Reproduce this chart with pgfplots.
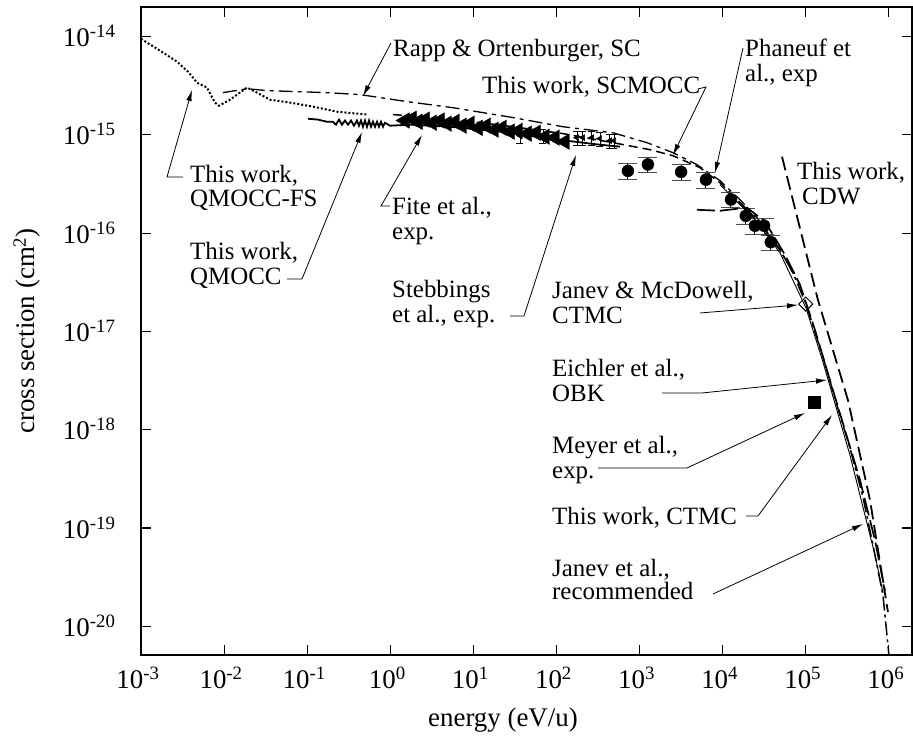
\documentclass[border=0pt]{standalone}
\usepackage{pgfplots}
\pgfplotsset{compat=1.18}
\usepackage{fontspec}
\setmainfont{Liberation Serif}
\usetikzlibrary{arrows.meta}
\newcommand\ann{\fontsize{25}{26}\selectfont}
\newcommand\lab{\fontsize{27}{30}\selectfont}
\begin{document}
\begin{tikzpicture}
\path[use as bounding box] (0,0) rectangle (913bp,738bp);
\begin{axis}[
 at={(141bp,83bp)}, anchor=south west, width=771bp, height=648bp, scale only axis,
 xmode=log, ymode=log, log basis x=10, log basis y=10,
 xmin=1e-3, xmax=1.9e6, ymin=5.1e-21, ymax=2.0e-14,
 axis line style={line width=1.6bp},
 every tick/.style={black, line width=1.1bp},
 major tick length=10bp, minor tick length=5.5bp,
 xtick={1e-3,1e-2,1e-1,1,10,100,1000,1e4,1e5,1e6},
 ytick={1e-20,1e-19,1e-18,1e-17,1e-16,1e-15,1e-14},
 xticklabel={\pgfmathtruncatemacro\ex{round(\tick)}10\textsuperscript{\ex}},
 yticklabel={\pgfmathtruncatemacro\ex{round(\tick)}10\textsuperscript{\ex}},
 tick label style={font=\lab},
 xticklabel style={anchor=base, yshift=-33bp, xshift=-3bp},
 yticklabel style={anchor=base east, xshift=-22bp, yshift=-10bp},
]
% This work, QMOCC-FS
\addplot[black, line width=2bp, dash pattern=on 2bp off 2bp] coordinates {
(1.0e-3,9.5e-15) (1.84e-3,6.88e-15) (2.71e-3,5.56e-15) (3.68e-3,4.40e-15) (4.72e-3,3.40e-15) (6.22e-3,3.03e-15) (7.76e-3,2.13e-15) (8.69e-3,1.98e-15) (1.18e-2,2.28e-15) (1.55e-2,2.69e-15) (1.89e-2,3.03e-15) (2.49e-2,2.69e-15) (3.56e-2,2.28e-15) (6.21e-2,2.13e-15) (0.1175,1.94e-15) (0.2286,1.72e-15) (0.525,1.61e-15)};
% Rapp & Ortenburger, SC
\addplot[black, line width=1.3bp, dash pattern=on 14bp off 5bp on 4bp off 5bp] coordinates {
(9.7e-3,2.69e-15) (1.89e-2,2.95e-15) (3.28e-2,2.82e-15) (0.173,2.69e-15) (0.431,2.57e-15) (1.59,2.18e-15) (5.69,1.89e-15) (30.0,1.50e-15) (119.7,1.21e-15) (478.6,1.05e-15) (1228,8.33e-16) (2523,6.59e-16) (4909,4.98e-16) (9290,3.42e-16) (16150,2.19e-16) (25880,1.44e-16) (42600,7.98e-17)};
% This work, SCMOCC
\addplot[black, line width=1.5bp, dash pattern=on 9bp off 5bp] coordinates {
(1.077,1.61e-15) (2.28,1.53e-15) (7.50,1.40e-15) (30.0,1.21e-15) (119.7,1.03e-15) (478.6,8.33e-16) (1334,7.07e-16) (2523,6.14e-16) (5333,4.64e-16) (9290,3.26e-16) (16150,2.04e-16) (25880,1.37e-16) (48950,6.78e-17) (70200,3.95e-17)};
% This work, QMOCC
\addplot[black, line width=1.8bp] coordinates {
(0.1023,1.46e-15) (0.1349,1.43e-15) (0.173,1.36e-15) (0.204,1.36e-15) (0.222,1.27e-15) (0.2415,1.43e-15) (0.262,1.27e-15) (0.285,1.40e-15) (0.310,1.27e-15) (0.337,1.40e-15) (0.366,1.24e-15) (0.397,1.40e-15) (0.420,1.24e-15) (0.444,1.40e-15) (0.469,1.21e-15) (0.496,1.40e-15) (0.525,1.21e-15) (0.555,1.40e-15) (0.586,1.21e-15) (0.619,1.36e-15) (0.655,1.21e-15) (0.692,1.36e-15) (0.731,1.21e-15) (0.773,1.36e-15) (0.817,1.21e-15) (0.863,1.33e-15) (0.991,1.24e-15) (1.73,1.27e-15) (5.23,1.21e-15) (20.9,1.08e-15) (83.5,9.14e-16) (334,7.94e-16) (581,7.59e-16)};
% Fite et al., exp.
\addplot[only marks, mark=triangle*, mark size=9bp, mark options={rotate=90, fill=black, draw=black}] coordinates {
(1.50,1.40e-15) (1.82,1.46e-15) (2.15,1.36e-15) (2.62,1.43e-15) (3.18,1.33e-15) (3.96,1.40e-15) (4.81,1.30e-15) (6.01,1.36e-15) (7.29,1.24e-15) (9.10,1.30e-15) (11.35,1.18e-15) (14.19,1.24e-15) (17.70,1.13e-15) (22.08,1.18e-15) (27.5,1.08e-15) (34.4,1.10e-15) (44.2,1.03e-15) (56.6,1.05e-15) (72.7,9.59e-16) (95.9,9.37e-16) (126.5,8.53e-16)};
% Stebbings et al., exp.
\addplot[only marks, mark=triangle*, mark size=3.5bp, mark options={rotate=90, fill=black},
 error bars/.cd, y dir=both, y explicit relative, error mark options={rotate=90, line width=0.9bp, mark size=3.5bp, black}, error bar style={line width=0.9bp, black}] coordinates {
(36.4,9.82e-16) +- (0,0.16) (68.8,9.82e-16) +- (0,0.16) (176.6,9.37e-16) +- (0,0.16) (208,9.37e-16) +- (0,0.16) (267,9.37e-16) +- (0,0.16) (334,9.15e-16) +- (0,0.16) (440,8.73e-16) +- (0,0.16) (492,8.73e-16) +- (0,0.16)};
% Phaneuf et al., exp
\addplot[only marks, mark=*, mark size=6bp, mark options={fill=black},
 error bars/.cd, y dir=both, y explicit relative, error mark options={rotate=90, line width=1bp, mark size=9.5bp, black!70}, error bar style={line width=1bp, black}] coordinates {
(724,4.3e-16) +- (0,0.18) (1260,5.0e-16) +- (0,0.18) (3160,4.2e-16) +- (0,0.18) (6300,3.5e-16) +- (0,0.18) (12600,2.2e-16) +- (0,0.18) (19000,1.5e-16) +- (0,0.18) (24500,1.19e-16) +- (0,0.18) (31500,1.19e-16) +- (0,0.18) (38000,8.1e-17) +- (0,0.18)};
% This work, CDW
\addplot[black, line width=1.8bp, dash pattern=on 14bp off 6bp] coordinates {
(5.18e4,6.0e-16) (1.40e5,2.1e-17) (3.22e5,2.0e-18) (5.93e5,1.93e-19) (9.75e5,1.40e-20)};
% This work, CTMC
\addplot[black, line width=1.5bp, dash pattern=on 14bp off 4bp on 3bp off 4bp] coordinates {
(16150,2.04e-16) (25880,1.37e-16) (48950,6.78e-17) (70200,3.95e-17) (1.005e5,1.91e-17) (1.61e5,5.51e-18) (2.37e5,1.79e-18) (3.40e5,6.53e-19) (4.88e5,2.07e-19) (6.44e5,6.71e-20) (8.49e5,2.08e-20) (1.0e6,5.2e-21)};
% Eichler et al., OBK
\addplot[black, line width=1.7bp, dash pattern=on 18bp off 5bp] coordinates {
(4909,1.73e-16) (9290,1.69e-16) (19600,1.82e-16) (32300,1.31e-16) (56200,6.03e-17) (85200,2.98e-17) (1.29e5,1.04e-17) (1.95e5,3.21e-18) (2.96e5,9.95e-19) (4.49e5,3.08e-19) (6.81e5,7.55e-20) (9.0e5,2.3e-20)};
% Janev et al., recommended
\addplot[black, line width=0.9bp] coordinates {
(9290,3.11e-16) (25880,1.31e-16) (48950,6.31e-17) (1.005e5,1.74e-17) (1.61e5,4.90e-18) (3.40e5,5.53e-19) (6.81e5,5.31e-20) (8.49e5,2.2e-20)};
% Janev & McDowell, CTMC
\addplot[only marks, mark=square, mark size=5bp, mark options={rotate=45, fill=white, draw=black, line width=0.9bp}] coordinates {(1.0e5,1.9e-17)};
% Meyer et al., exp.
\addplot[only marks, mark=square*, mark size=6bp, mark options={fill=black}] coordinates {(1.26e5,1.92e-18)};
\end{axis}
\begin{scope}[x=1bp, y=-1bp, yshift=738bp]
\tikzset{lead/.style={line width=0.8bp, -{Latex[length=11bp,width=5.5bp]}}}
% axis labels
\node[font=\lab, anchor=base] at (503,727) {energy (eV/u)};
\node[font=\lab, rotate=90] at (27,331) {cross section (cm\textsuperscript{2})};
% annotations
\node[font=\ann, anchor=base west, inner sep=0] at (393,57) {Rapp \& Ortenburger, SC};
\draw[lead] (391,43) -- (363,96);
\node[font=\ann, anchor=base west, inner sep=0] at (482,94) {This work, SCMOCC};
\draw[lead] (698,89) -- (706,87) -- (673,155);
\node[font=\ann, anchor=base west, inner sep=0] at (745,57) {Phaneuf et};
\node[font=\ann, anchor=base west, inner sep=0] at (745,82) {al., exp};
\draw[lead] (743,48) -- (715,173);
\node[font=\ann, anchor=base west, inner sep=0] at (190,183) {This work,};
\node[font=\ann, anchor=base west, inner sep=0] at (190,207) {QMOCC-FS};
\draw[lead] (183,177) -- (167,177) -- (192,90);
\node[font=\ann, anchor=base west, inner sep=0] at (797,180) {This work,};
\node[font=\ann, anchor=base west, inner sep=0] at (802,205) {CDW};
\node[font=\ann, anchor=base west, inner sep=0] at (392,215) {Fite et al.,};
\node[font=\ann, anchor=base west, inner sep=0] at (392,240) {exp.};
\draw[lead] (390,206) -- (381,206) -- (422,135);
\node[font=\ann, anchor=base west, inner sep=0] at (190,260) {This work,};
\node[font=\ann, anchor=base west, inner sep=0] at (190,285) {QMOCC};
\draw[lead] (287,279) -- (302,279) -- (362,132);
\node[font=\ann, anchor=base west, inner sep=0] at (392,298) {Stebbings};
\node[font=\ann, anchor=base west, inner sep=0] at (392,323) {et al., exp.};
\draw[lead] (510,316) -- (524,316) -- (576,155);
\node[font=\ann, anchor=base west, inner sep=0] at (552,299) {Janev \& McDowell,};
\node[font=\ann, anchor=base west, inner sep=0] at (552,324) {CTMC};
\draw[lead] (700,313) -- (798,305);
\node[font=\ann, anchor=base west, inner sep=0] at (552,377) {Eichler et al.,};
\node[font=\ann, anchor=base west, inner sep=0] at (552,402) {OBK};
\draw[lead] (662,393) -- (702,393) -- (827,380);
\node[font=\ann, anchor=base west, inner sep=0] at (552,454) {Meyer et al.,};
\node[font=\ann, anchor=base west, inner sep=0] at (552,479) {exp.};
\draw[lead] (598,468) -- (687,468) -- (805,413);
\node[font=\ann, anchor=base west, inner sep=0] at (552,525) {This work, CTMC};
\draw[lead] (746,516) -- (758,516) -- (832,415);
\node[font=\ann, anchor=base west, inner sep=0] at (552,577) {Janev et al.,};
\node[font=\ann, anchor=base west, inner sep=0] at (552,600) {recommended};
\draw[lead] (713,594) -- (863,524);
\end{scope}
\end{tikzpicture}
\end{document}
